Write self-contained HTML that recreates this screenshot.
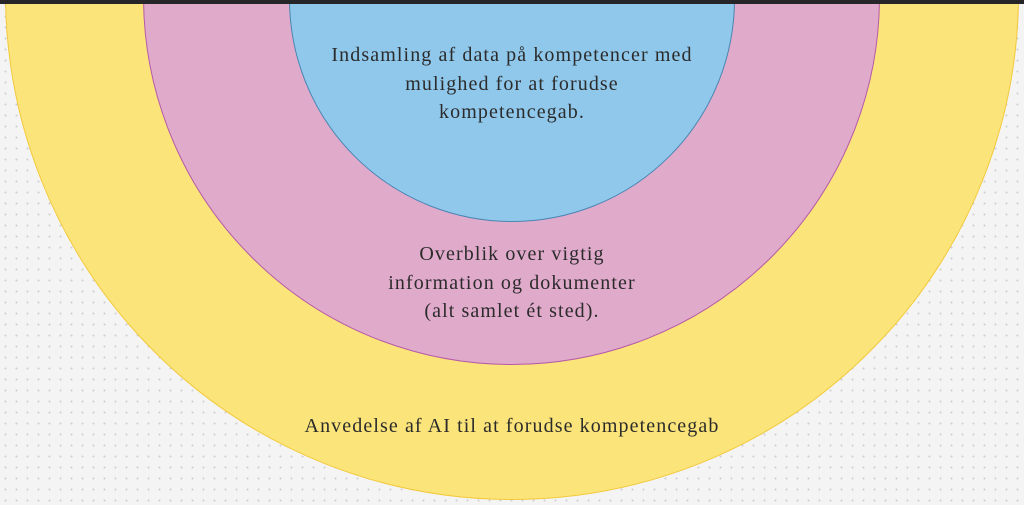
<!DOCTYPE html>
<html><head><meta charset="utf-8"><style>
html,body{margin:0;padding:0}
body{width:1024px;height:505px;overflow:hidden;position:relative;background-color:#f4f4f4;background-image:radial-gradient(#cfcfcf 0.8px,transparent 1.2px);background-size:11px 11px;font-family:"Liberation Serif",serif;}
.c{position:absolute;border-radius:50%;box-sizing:border-box}
.t{position:absolute;left:0;width:1024px;text-align:center;color:#2b2b2b;font-size:20px;letter-spacing:1.1px;line-height:28.5px}
</style></head><body>
<div class="c" style="left:5px;top:-514px;width:1014px;height:1014px;background:#fbe479;border:1.5px solid #f3c93c"></div>
<div class="c" style="left:143px;top:-372px;width:737px;height:737px;background:#e0aacb;border:1.5px solid #b65aa8"></div>
<div class="c" style="left:289px;top:-224px;width:446px;height:446px;background:#90c8eb;border:1.5px solid #4a86b3"></div>
<div style="position:absolute;left:0;top:0;width:1024px;height:4px;background:#262528"></div>
<div class="t" style="top:41px">Indsamling af data på kompetencer med<br>mulighed for at forudse<br>kompetencegab.</div>
<div class="t" style="top:240px">Overblik over vigtig<br>information og dokumenter<br>(alt samlet ét sted).</div>
<div class="t" style="top:412px">Anvedelse af AI til at forudse kompetencegab</div>
</body></html>
